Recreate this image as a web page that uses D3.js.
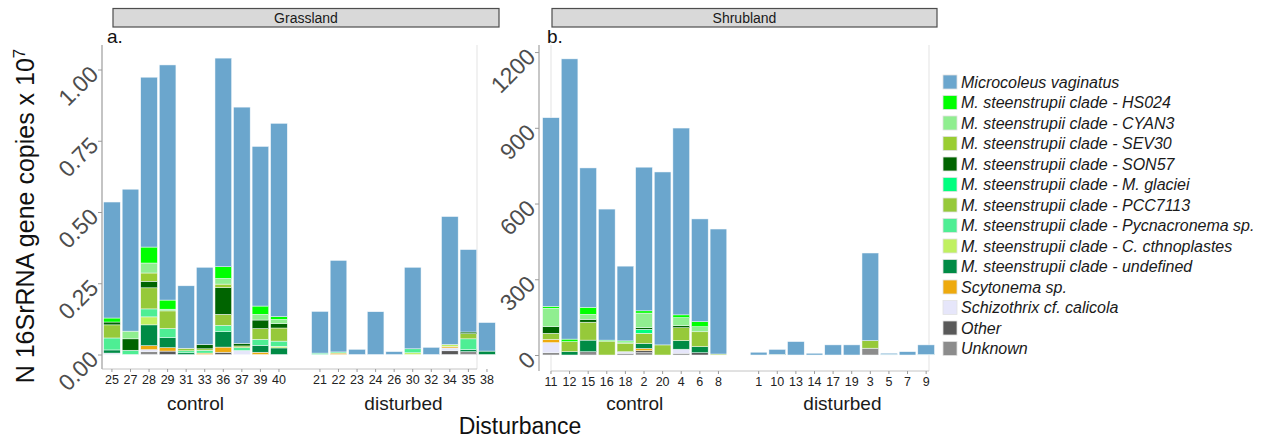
<!doctype html>
<html lang="en">
<head>
<meta charset="utf-8">
<title>16SrRNA gene copies by disturbance</title>
<style>
  body { margin: 0; background: #fff; }
  svg text { font-family: "Liberation Sans", Arial, Helvetica, sans-serif; }
  .ytick text { fill: #4d4d4d; font-size: 23px; }
  .xtick text { fill: #222; font-size: 12.5px; }
  .group-label { font-size: 19px; fill: #1a1a1a; }
  .strip-text { font-size: 14px; fill: #1a1a1a; }
  .legend-text { font-size: 16px; font-style: italic; fill: #1a1a1a; }
</style>
</head>
<body>
<script src="https://d3js.org/d3.v7.min.js"></script>
<script>
// taxa, legend order (top of stack first)
const taxa = [
  "Microcoleus vaginatus",
  "M. steenstrupii clade - HS024",
  "M. steenstrupii clade - CYAN3",
  "M. steenstrupii clade - SEV30",
  "M. steenstrupii clade - SON57",
  "M. steenstrupii clade - M. glaciei",
  "M. steenstrupii clade - PCC7113",
  "M. steenstrupii clade - Pycnacronema sp.",
  "M. steenstrupii clade - C. cthnoplastes",
  "M. steenstrupii clade - undefined",
  "Scytonema sp.",
  "Schizothrix cf. calicola",
  "Other",
  "Unknown"
];
const taxaColors = [
  "#6ba6cd", "#00ff00", "#90ee90", "#9acd32", "#006400", "#00ff7f", "#96c93a",
  "#4eee94", "#c0f060", "#008b45", "#eeaa0e", "#e6e6fa", "#595959", "#8c8c8c"
];

const grassControl = ["25", "27", "28", "29", "31", "33", "36", "37", "39", "40"];
const grassDisturbed = ["21", "22", "23", "24", "26", "30", "32", "34", "35", "38"];
const shrubControl = ["11", "12", "15", "16", "18", "2", "20", "4", "6", "8"];
const shrubDisturbed = ["1", "10", "13", "14", "17", "19", "3", "5", "7", "9"];

// one row per sample, values in taxa order (x 10^7 copies)
const grassControlValues = [
  [0.407, 0.014, 0, 0, 0.010, 0, 0.046, 0.042, 0, 0.011, 0, 0.005, 0, 0],
  [0.498, 0, 0.027, 0, 0.040, 0, 0, 0.015, 0, 0, 0, 0, 0, 0],
  [0.596, 0.056, 0.035, 0.029, 0.023, 0, 0.074, 0.028, 0.028, 0.073, 0.014, 0.007, 0, 0.010],
  [0.825, 0.032, 0.006, 0, 0, 0, 0.062, 0.032, 0, 0.035, 0.012, 0, 0.012, 0],
  [0.219, 0, 0, 0, 0, 0, 0.009, 0.007, 0, 0.006, 0, 0, 0, 0],
  [0.271, 0, 0, 0, 0.015, 0, 0.005, 0.010, 0, 0, 0.005, 0, 0, 0],
  [0.732, 0.041, 0.020, 0.012, 0.094, 0, 0.039, 0.022, 0, 0.054, 0.018, 0, 0.008, 0],
  [0.829, 0, 0, 0, 0.009, 0, 0.006, 0.010, 0, 0, 0, 0.014, 0, 0],
  [0.560, 0.029, 0.020, 0, 0.030, 0, 0.038, 0.021, 0, 0.024, 0.008, 0, 0, 0],
  [0.678, 0.010, 0.015, 0, 0.015, 0, 0.046, 0.018, 0.006, 0.023, 0, 0, 0, 0]
];
const grassDisturbedValues = [
  [0.146, 0, 0, 0, 0, 0, 0, 0.005, 0, 0, 0, 0, 0, 0],
  [0.321, 0, 0, 0, 0, 0, 0, 0.004, 0, 0, 0.005, 0, 0, 0],
  [0.018, 0, 0, 0, 0, 0, 0, 0, 0, 0, 0, 0, 0, 0],
  [0.150, 0, 0, 0, 0, 0, 0, 0, 0, 0, 0, 0, 0, 0],
  [0.010, 0, 0, 0, 0, 0, 0, 0, 0, 0, 0, 0, 0, 0],
  [0.286, 0, 0, 0, 0, 0, 0, 0.014, 0.006, 0, 0, 0, 0, 0],
  [0.025, 0, 0, 0, 0, 0, 0, 0, 0, 0, 0, 0, 0, 0],
  [0.449, 0, 0, 0, 0, 0, 0, 0, 0.007, 0, 0.005, 0.010, 0.013, 0],
  [0.289, 0, 0, 0, 0.006, 0, 0.018, 0.038, 0, 0.007, 0, 0, 0, 0.010],
  [0.100, 0, 0, 0, 0, 0, 0, 0, 0, 0.012, 0, 0, 0, 0]
];
const shrubControlValues = [
  [747, 8, 73, 0, 26, 0, 24, 0, 0, 0, 13, 40, 0, 9],
  [1110, 10, 0, 0, 0, 0, 40, 0, 0, 13, 0, 0, 0, 0],
  [552, 28, 20, 0, 11, 0, 71, 0, 0, 46, 0, 0, 0, 13],
  [519, 4, 0, 0, 0, 0, 55, 0, 0, 0, 0, 0, 0, 0],
  [296, 4, 5, 0, 0, 0, 34, 0, 0, 0, 0, 6, 0, 7],
  [569, 9, 58, 0, 6, 16, 40, 0, 0, 20, 9, 0, 8, 9],
  [685, 0, 0, 0, 0, 0, 40, 0, 0, 0, 0, 0, 0, 0],
  [740, 11, 32, 0, 8, 0, 51, 0, 0, 34, 0, 16, 0, 7],
  [407, 20, 20, 0, 0, 0, 59, 0, 0, 24, 0, 0, 9, 0],
  [495, 0, 0, 0, 0, 0, 4, 0, 0, 0, 0, 0, 0, 0]
];
const shrubDisturbedValues = [
  [11, 0, 0, 0, 0, 0, 0, 0, 0, 0, 0, 0, 0, 0],
  [19, 0, 0, 0, 0, 0, 0, 0, 0, 3, 0, 0, 0, 0],
  [53, 0, 0, 0, 0, 0, 0, 0, 0, 0, 0, 0, 0, 0],
  [7, 0, 0, 0, 0, 0, 0, 0, 0, 0, 0, 0, 0, 0],
  [40, 0, 0, 0, 0, 0, 0, 0, 0, 0, 0, 0, 0, 0],
  [40, 0, 0, 0, 0, 0, 0, 0, 0, 0, 0, 0, 0, 0],
  [347, 0, 0, 0, 0, 0, 30, 0, 0, 0, 0, 0, 0, 27],
  [5, 0, 0, 0, 0, 0, 0, 2, 0, 0, 0, 0, 0, 0],
  [13, 0, 0, 0, 0, 0, 0, 0, 0, 0, 0, 0, 0, 0],
  [38, 0, 0, 0, 0, 0, 0, 2, 0, 0, 0, 0, 0, 0]
];

const grassTicks = [0, 0.25, 0.5, 0.75, 1];
const shrubTicks = [0, 300, 600, 900, 1200];

const width = 1273, height = 446;
const plotTop = 45;

const svg = d3.select("body").append("svg")
  .attr("width", width)
  .attr("height", height);

const panels = [
  {
    title: "Grassland", tag: "a.", tagX: 107,
    groups: [
      { label: "control", samples: grassControl, rows: grassControlValues, range: [102.7, 288.2] },
      { label: "disturbed", samples: grassDisturbed, rows: grassDisturbedValues, range: [310.7, 496.2] }
    ],
    yDomain: [0, 1.086], yRange: [354.5, plotTop], ticks: grassTicks, fmt: d3.format(".2f"),
    axisX: 102, strip: [113, 499], frame: [102, 477], baseY: 369
  },
  {
    title: "Shrubland", tag: "b.", tagX: 547,
    groups: [
      { label: "control", samples: shrubControl, rows: shrubControlValues, range: [541.7, 727.7] },
      { label: "disturbed", samples: shrubDisturbed, rows: shrubDisturbedValues, range: [749.4, 935.4] }
    ],
    yDomain: [0, 1228], yRange: [355, plotTop], ticks: shrubTicks, fmt: d3.format("d"),
    axisX: 539, strip: [552, 937], frame: [551, 929], baseY: 371
  }
];

const stackKeys = d3.range(taxa.length).reverse();   // Unknown at the bottom
const stack = d3.stack().keys(stackKeys).value((row, k) => row[k]);

panels.forEach(p => {
  const g = svg.append("g");
  const y = d3.scaleLinear().domain(p.yDomain).range(p.yRange);

  // faint panel frame
  g.append("line")
    .attr("x1", p.frame[1]).attr("x2", p.frame[1])
    .attr("y1", plotTop).attr("y2", p.baseY)
    .attr("stroke", "#e3e3e3");
  g.append("line")
    .attr("x1", p.frame[0]).attr("x2", p.frame[0])
    .attr("y1", plotTop).attr("y2", p.baseY)
    .attr("stroke", "#e3e3e3");
  g.append("line")
    .attr("x1", p.frame[0]).attr("x2", p.frame[1])
    .attr("y1", p.baseY).attr("y2", p.baseY)
    .attr("stroke", "#c4c4c4");

  // bars
  p.groups.forEach(grp => {
    const x = d3.scaleBand().domain(grp.samples).range(grp.range)
      .paddingInner(0.105).paddingOuter(0.05);
    const series = stack(grp.rows);

    g.append("g").selectAll("g")
      .data(series)
      .join("g")
        .attr("fill", s => taxaColors[s.key])
      .selectAll("rect")
      .data(s => s)
      .join("rect")
        .attr("x", (d, i) => x(grp.samples[i]))
        .attr("width", x.bandwidth())
        .attr("y", d => y(d[1]))
        .attr("height", d => Math.max(0, y(d[0]) - y(d[1])))
        .attr("stroke", d => (d[1] - d[0]) > 0 ? "#f4f8fb" : "none")
        .attr("stroke-width", 0.5);

    const xAxis = g.append("g")
      .attr("class", "xtick")
      .attr("transform", `translate(0,${p.baseY})`)
      .call(d3.axisBottom(x).tickSize(3).tickPadding(3));
    xAxis.select(".domain").remove();
    xAxis.selectAll("line").attr("stroke", "#9a9a9a");
    xAxis.selectAll("text").attr("font-size", null);

    g.append("text")
      .attr("class", "group-label")
      .attr("x", d3.mean(grp.range))
      .attr("y", 410)
      .attr("text-anchor", "middle")
      .text(grp.label);
  });

  // y axis
  g.append("line")
    .attr("x1", p.axisX).attr("x2", p.axisX)
    .attr("y1", plotTop).attr("y2", p.baseY)
    .attr("stroke", "#b5b5b5")
    .attr("stroke-width", 1.5);
  const yAxis = g.append("g")
    .attr("class", "ytick")
    .attr("transform", `translate(${p.axisX},0)`)
    .call(d3.axisLeft(y).tickValues(p.ticks).tickFormat(p.fmt).tickSize(4));
  yAxis.select(".domain").remove();
  yAxis.selectAll("line").attr("stroke", "#9a9a9a");
  yAxis.selectAll("text")
    .attr("font-size", null)
    .attr("x", 0)
    .attr("dy", "0.35em")
    .attr("text-anchor", "end")
    .attr("transform", "translate(-8,0) rotate(-45)");

  // strip on top
  g.append("rect")
    .attr("x", p.strip[0]).attr("y", 8.5)
    .attr("width", p.strip[1] - p.strip[0]).attr("height", 18.5)
    .attr("fill", "#d9d9d9")
    .attr("stroke", "#4d4d4d")
    .attr("stroke-width", 1.2);
  g.append("text")
    .attr("class", "strip-text")
    .attr("x", d3.mean(p.strip)).attr("y", 22.5)
    .attr("text-anchor", "middle")
    .text(p.title);

  g.append("text")
    .attr("x", p.tagX).attr("y", 43)
    .attr("font-size", 19)
    .attr("fill", "#111")
    .text(p.tag);
});

// axis titles
svg.append("text")
  .attr("x", 520).attr("y", 434)
  .attr("text-anchor", "middle")
  .attr("font-size", 23)
  .attr("fill", "#111")
  .text("Disturbance");

const yTitle = svg.append("text")
  .attr("transform", "translate(34,216) rotate(-90)")
  .attr("text-anchor", "middle")
  .attr("font-size", 25)
  .attr("fill", "#111");
yTitle.append("tspan").text("N 16SrRNA gene copies x 10");
yTitle.append("tspan").attr("dy", "-0.55em").attr("font-size", 17).text("7");

// legend
const legend = svg.append("g").attr("transform", "translate(943,75)");
const item = legend.selectAll("g")
  .data(taxa)
  .join("g")
    .attr("transform", (d, i) => `translate(0,${i * 20.5})`);
item.append("rect")
  .attr("width", 14).attr("height", 14)
  .attr("fill", (d, i) => taxaColors[i])
  .attr("stroke", "#e2e2e2")
  .attr("stroke-width", 0.8);
item.append("text")
  .attr("class", "legend-text")
  .attr("x", 18).attr("y", 7)
  .attr("dy", "0.36em")
  .text(d => d);
</script>
</body>
</html>
